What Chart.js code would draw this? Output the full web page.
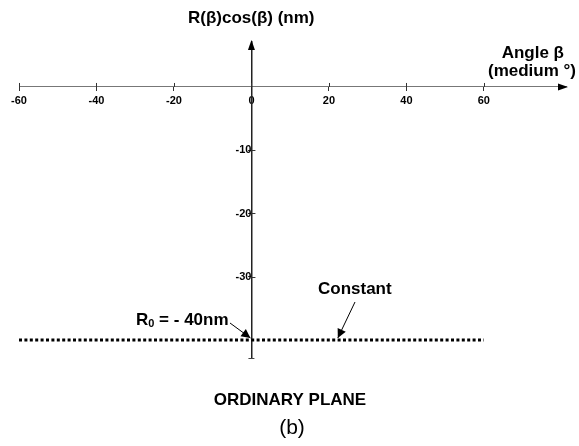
<!DOCTYPE html>
<html>
<head>
<meta charset="utf-8">
<script src="https://cdn.jsdelivr.net/npm/chart.js@4.4.1/dist/chart.umd.min.js"></script>
<style>
  html, body { margin: 0; padding: 0; background: #fff; }
  #wrap { width: 579px; height: 446px; position: relative; }
</style>
</head>
<body>
<div id="wrap"><canvas id="c" width="579" height="446"></canvas></div>
<script>
// ---- data ----
const angleRange = [-60, 60];          // extent of the constant line (medium °)
const constantR = [-40, -40];          // R(β)cos(β) = R0 (nm)
const xTickValues = [-60, -40, -20, 0, 20, 40, 60];
const yTickValues = [-10, -20, -30];
const xLimits = [-60, 81.2];
const yLimits = [-42.85, 7.11];
const r0Point = [0, -40];
const constantPoint = [22.3, -40];

const FONT = "'Liberation Sans', Arial, sans-serif";

const points = angleRange.map((a, i) => ({ x: a, y: constantR[i] }));

const overlay = {
  id: 'overlay',
  afterDraw(chart) {
    const ctx = chart.ctx;
    const xs = chart.scales.x, ys = chart.scales.y;
    const x0 = xs.getPixelForValue(0), y0 = ys.getPixelForValue(0);
    const area = chart.chartArea;
    ctx.save();
    ctx.fillStyle = '#000';
    ctx.strokeStyle = '#000';
    // x axis arrow
    ctx.beginPath();
    ctx.moveTo(area.right + 2, y0);
    ctx.lineTo(area.right - 8, y0 - 3.5);
    ctx.lineTo(area.right - 8, y0 + 3.5);
    ctx.closePath(); ctx.fill();
    // y axis arrow
    ctx.beginPath();
    ctx.moveTo(x0, area.top - 2);
    ctx.lineTo(x0 - 3.5, area.top + 8);
    ctx.lineTo(x0 + 3.5, area.top + 8);
    ctx.closePath(); ctx.fill();
    // y axis bottom cap
    ctx.lineWidth = 1;
    ctx.strokeStyle = '#444';
    ctx.beginPath();
    ctx.moveTo(x0 - 3, area.bottom + 0.5);
    ctx.lineTo(x0 + 3, area.bottom + 0.5);
    ctx.stroke();
    // x ticks extend above the axis
    ctx.strokeStyle = '#333';
    xTickValues.forEach(v => {
      const px = Math.round(xs.getPixelForValue(v)) + 0.5;
      ctx.beginPath(); ctx.moveTo(px, y0 - 4); ctx.lineTo(px, y0); ctx.stroke();
    });
    // y ticks extend right of the axis
    yTickValues.forEach(v => {
      const py = Math.round(ys.getPixelForValue(v)) + 0.5;
      ctx.beginPath(); ctx.moveTo(x0, py); ctx.lineTo(x0 + 4, py); ctx.stroke();
    });

    // texts
    ctx.fillStyle = '#000';
    ctx.textBaseline = 'middle';
    ctx.font = 'bold 17px ' + FONT;
    ctx.textAlign = 'left';
    ctx.fillText('R(β)cos(β) (nm)', 188, 18);
    ctx.textAlign = 'right';
    ctx.fillText('Angle β', 564, 53);
    ctx.fillText('(medium °)', 576, 71);
    ctx.textAlign = 'left';
    ctx.fillText('Constant', 318, 289);

    // R0 label
    let tx = 136;
    const ty = 320;
    ctx.fillText('R', tx, ty);
    tx += ctx.measureText('R').width;
    ctx.font = 'bold 11px ' + FONT;
    ctx.fillText('0', tx, ty + 4);
    tx += ctx.measureText('0').width;
    ctx.font = 'bold 17px ' + FONT;
    ctx.fillText(' = - 40nm', tx, ty);

    ctx.textAlign = 'center';
    ctx.font = 'bold 17px ' + FONT;
    ctx.fillText('ORDINARY PLANE', 290, 400);
    ctx.font = '21px ' + FONT;
    ctx.fillText('(b)', 292, 428);

    // annotation arrows
    function arrow(fx, fy, tx2, ty2) {
      ctx.strokeStyle = '#000';
      ctx.fillStyle = '#000';
      ctx.lineWidth = 1;
      ctx.beginPath(); ctx.moveTo(fx, fy); ctx.lineTo(tx2, ty2); ctx.stroke();
      const ang = Math.atan2(ty2 - fy, tx2 - fx);
      const L = 9, W = 4.5;
      ctx.beginPath();
      ctx.moveTo(tx2, ty2);
      ctx.lineTo(tx2 - L * Math.cos(ang) + W * Math.sin(ang), ty2 - L * Math.sin(ang) - W * Math.cos(ang));
      ctx.lineTo(tx2 - L * Math.cos(ang) - W * Math.sin(ang), ty2 - L * Math.sin(ang) + W * Math.cos(ang));
      ctx.closePath(); ctx.fill();
    }
    arrow(230, 323, xs.getPixelForValue(r0Point[0]) - 1, ys.getPixelForValue(r0Point[1]) - 2);
    arrow(355, 302, xs.getPixelForValue(constantPoint[0]), ys.getPixelForValue(constantPoint[1]) - 2);
    ctx.restore();
  }
};

new Chart(document.getElementById('c'), {
  type: 'scatter',
  data: {
    datasets: [{
      data: points,
      showLine: true,
      borderColor: '#000',
      borderWidth: 3,
      borderDash: [3, 2.4],
      pointRadius: 0,
      fill: false
    }]
  },
  options: {
    responsive: false,
    animation: false,
    events: [],
    layout: { padding: { left: 19, right: 13, top: 42, bottom: 88 } },
    plugins: { legend: { display: false }, tooltip: { enabled: false }, title: { display: false } },
    scales: {
      x: {
        type: 'linear',
        min: xLimits[0], max: xLimits[1],
        position: { y: 0 },
        afterBuildTicks: s => { s.ticks = xTickValues.map(v => ({ value: v })); },
        ticks: {
          font: { family: FONT, weight: 'bold', size: 11 },
          color: '#000',
          padding: 3,
          maxRotation: 0,
          autoSkip: false,
          callback: v => String(v)
        },
        grid: { drawOnChartArea: false, drawTicks: true, tickLength: 4, color: '#333' },
        border: { display: true, color: '#777', width: 1 }
      },
      y: {
        type: 'linear',
        min: yLimits[0], max: yLimits[1],
        position: { x: 0 },
        afterBuildTicks: s => { s.ticks = yTickValues.map(v => ({ value: v })); },
        ticks: {
          font: { family: FONT, weight: 'bold', size: 11 },
          color: '#000',
          padding: 1,
          autoSkip: false,
          callback: v => String(v)
        },
        grid: { drawOnChartArea: false, drawTicks: true, tickLength: 3, color: '#333' },
        border: { display: true, color: '#222', width: 1.5 }
      }
    }
  },
  plugins: [overlay]
});
</script>
</body>
</html>
